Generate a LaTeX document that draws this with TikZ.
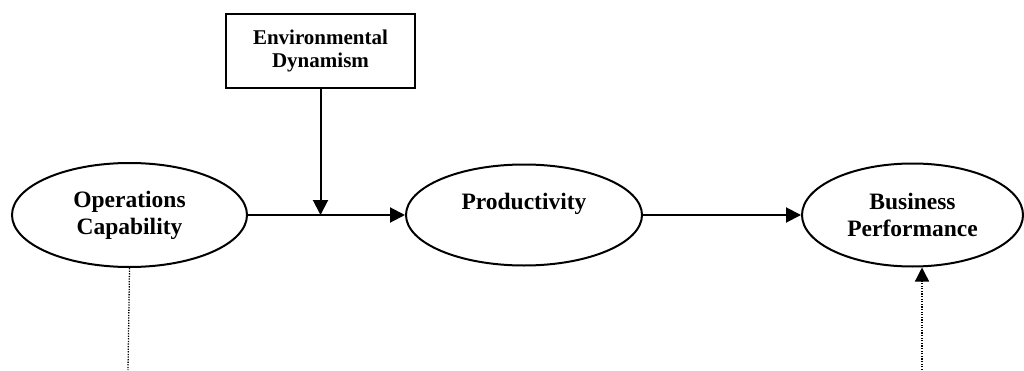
\documentclass[tikz,border=0pt]{standalone}
\usepackage{fontspec}
\setmainfont{Liberation Serif}
\usetikzlibrary{shapes.geometric,arrows.meta}
\begin{document}
\begin{tikzpicture}[x=1pt,y=1pt,
  ell/.style={ellipse,draw,line width=2pt,inner sep=0pt,align=center,
    font=\bfseries\fontsize{23.5}{27}\selectfont},
  boxnode/.style={draw,line width=2pt,minimum width=189pt,minimum height=74pt,
    inner sep=0pt,align=center,font=\bfseries\fontsize{21}{23}\selectfont},
  arr/.style={line width=2pt,-{Triangle[length=15pt,width=15pt]}},
  dotarr/.style={line width=1.3pt,dash pattern=on 1.3pt off 1.3pt,-{Triangle[length=14pt,width=14pt]}},
  dotln/.style={line width=1.3pt,dash pattern=on 1.3pt off 1.3pt}]
\useasboundingbox (0,0) rectangle (1024,370);
\node[ell,minimum width=235pt,minimum height=104pt] (oc) at (129.5,155) {Operations\\Capability};
\node[ell,minimum width=236pt,minimum height=101pt] (pr) at (524,155) {Productivity\\\mbox{}};
\node[ell,minimum width=221pt,minimum height=103pt] (bp) at (912.5,155) {Business\\Performance};
\node[boxnode] (ed) at (320.5,319) {Environmental\\Dynamism};
\coordinate (j) at (320.5,155);
\coordinate (ocb) at (128,0);
\coordinate (bpb) at (922,0);
\draw[arr] (oc.east) -- (pr.west);
\draw[arr] (ed.south) -- (j);
\draw[arr] (pr.east) -- (bp.west);
\draw[dotln] (oc.south) -- (ocb);
\draw[dotarr] (bpb) -- (bpb |- bp.south);
\end{tikzpicture}
\end{document}
